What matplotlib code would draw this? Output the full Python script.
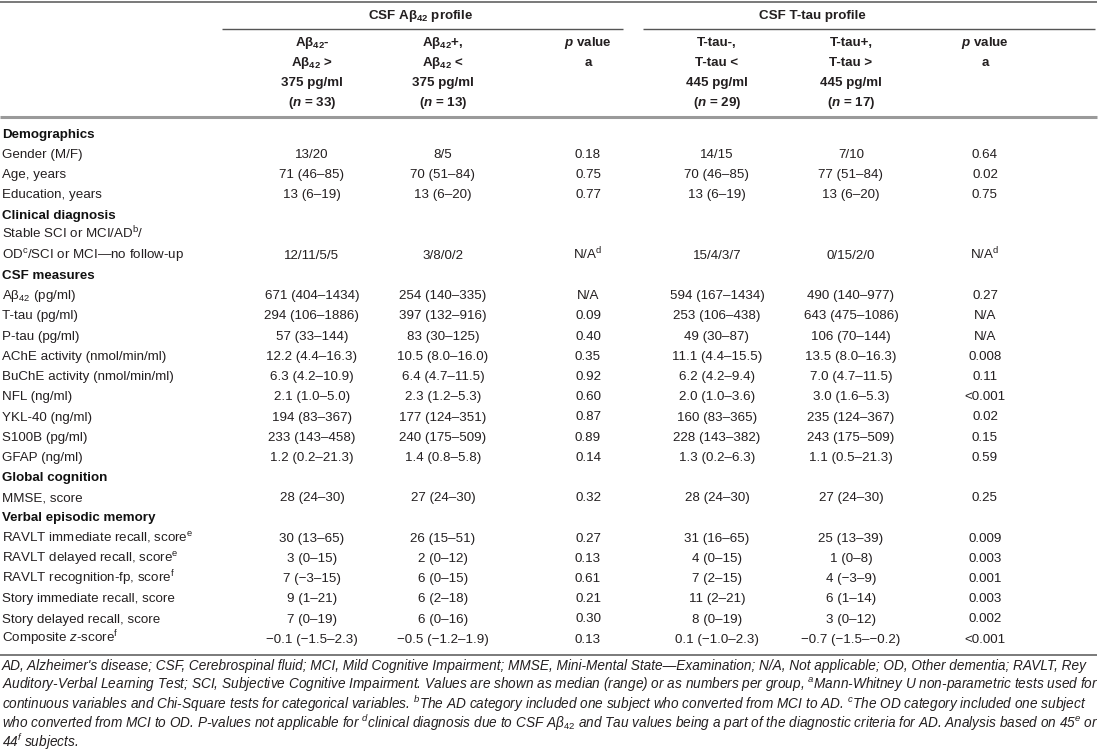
import matplotlib
matplotlib.use("Agg")
import matplotlib.pyplot as plt

plt.rcParams['font.family'] = ['Liberation Sans', 'DejaVu Sans']
plt.rcParams['mathtext.fontset'] = 'custom'
plt.rcParams['mathtext.rm'] = 'Liberation Sans'
plt.rcParams['mathtext.it'] = 'Liberation Sans:italic'
plt.rcParams['mathtext.bf'] = 'Liberation Sans:bold'
plt.rcParams['mathtext.bfit'] = 'Liberation Sans:italic:bold'

# ---------------- data ----------------
group_titles = ["CSF A\u03b2$_{\\mathbf{42}}$ profile", "CSF T-tau profile"]
col_headers = [
    ["A\u03b2$_{\\mathbf{42}}$-", "A\u03b2$_{\\mathbf{42}}$ >", "375 pg/ml", "($\\mathbfit{n}$ = 33)"],
    ["A\u03b2$_{\\mathbf{42}}$+,", "A\u03b2$_{\\mathbf{42}}$ <", "375 pg/ml", "($\\mathbfit{n}$ = 13)"],
    ["$\\mathbfit{p}$ value", "a"],
    ["T-tau-,", "T-tau <", "445 pg/ml", "($\\mathbfit{n}$ = 29)"],
    ["T-tau+,", "T-tau >", "445 pg/ml", "($\\mathbfit{n}$ = 17)"],
    ["$\\mathbfit{p}$ value", "a"],
]

row_labels = [
    "Demographics", "Gender (M/F)", "Age, years", "Education, years",
    "Clinical diagnosis", "Stable SCI or MCI/AD$^{\\mathrm{b}}$/",
    "OD$^{\\mathrm{c}}$/SCI or MCI\u2014no follow-up",
    "CSF measures", "A\u03b2$_{42}$ (pg/ml)", "T-tau (pg/ml)", "P-tau (pg/ml)",
    "AChE activity (nmol/min/ml)", "BuChE activity (nmol/min/ml)", "NFL (ng/ml)",
    "YKL-40 (ng/ml)", "S100B (pg/ml)", "GFAP (ng/ml)",
    "Global cognition", "MMSE, score",
    "Verbal episodic memory",
    "RAVLT immediate recall, score$^{\\mathrm{e}}$",
    "RAVLT delayed recall, score$^{\\mathrm{e}}$",
    "RAVLT recognition-fp, score$^{\\mathrm{f}}$",
    "Story immediate recall, score", "Story delayed recall, score",
    "Composite $\\mathit{z}$-score$^{\\mathrm{f}}$",
]
section_rows = {"Demographics", "Clinical diagnosis", "CSF measures",
                "Global cognition", "Verbal episodic memory"}

NAd = "N/A$^{\\mathrm{d}}$"
abeta_neg = ["", "13/20", "71 (46\u201385)", "13 (6\u201319)", "", "", "12/11/5/5", "",
             "671 (404\u20131434)", "294 (106\u20131886)", "57 (33\u2013144)", "12.2 (4.4\u201316.3)",
             "6.3 (4.2\u201310.9)", "2.1 (1.0\u20135.0)", "194 (83\u2013367)", "233 (143\u2013458)",
             "1.2 (0.2\u201321.3)", "", "28 (24\u201330)", "", "30 (13\u201365)", "3 (0\u201315)",
             "7 (\u22123\u201315)", "9 (1\u201321)", "7 (0\u201319)", "\u22120.1 (\u22121.5\u20132.3)"]
abeta_pos = ["", "8/5", "70 (51\u201384)", "13 (6\u201320)", "", "", "3/8/0/2", "",
             "254 (140\u2013335)", "397 (132\u2013916)", "83 (30\u2013125)", "10.5 (8.0\u201316.0)",
             "6.4 (4.7\u201311.5)", "2.3 (1.2\u20135.3)", "177 (124\u2013351)", "240 (175\u2013509)",
             "1.4 (0.8\u20135.8)", "", "27 (24\u201330)", "", "26 (15\u201351)", "2 (0\u201312)",
             "6 (0\u201315)", "6 (2\u201318)", "6 (0\u201316)", "\u22120.5 (\u22121.2\u20131.9)"]
p_abeta = ["", "0.18", "0.75", "0.77", "", "", NAd, "",
           "N/A", "0.09", "0.40", "0.35", "0.92", "0.60", "0.87", "0.89", "0.14", "",
           "0.32", "", "0.27", "0.13", "0.61", "0.21", "0.30", "0.13"]
tau_neg = ["", "14/15", "70 (46\u201385)", "13 (6\u201319)", "", "", "15/4/3/7", "",
           "594 (167\u20131434)", "253 (106\u2013438)", "49 (30\u201387)", "11.1 (4.4\u201315.5)",
           "6.2 (4.2\u20139.4)", "2.0 (1.0\u20133.6)", "160 (83\u2013365)", "228 (143\u2013382)",
           "1.3 (0.2\u20136.3)", "", "28 (24\u201330)", "", "31 (16\u201365)", "4 (0\u201315)",
           "7 (2\u201315)", "11 (2\u201321)", "8 (0\u201319)", "0.1 (\u22121.0\u20132.3)"]
tau_pos = ["", "7/10", "77 (51\u201384)", "13 (6\u201320)", "", "", "0/15/2/0", "",
           "490 (140\u2013977)", "643 (475\u20131086)", "106 (70\u2013144)", "13.5 (8.0\u201316.3)",
           "7.0 (4.7\u201311.5)", "3.0 (1.6\u20135.3)", "235 (124\u2013367)", "243 (175\u2013509)",
           "1.1 (0.5\u201321.3)", "", "27 (24\u201330)", "", "25 (13\u201339)", "1 (0\u20138)",
           "4 (\u22123\u20139)", "6 (1\u201314)", "3 (0\u201312)", "\u22120.7 (\u22121.5\u2013\u22120.2)"]
p_tau = ["", "0.64", "0.02", "0.75", "", "", NAd, "",
         "0.27", "N/A", "N/A", "0.008", "0.11", "<0.001", "0.02", "0.15", "0.59", "",
         "0.25", "", "0.009", "0.003", "0.001", "0.003", "0.002", "<0.001"]

footnote_lines = [
    "AD, Alzheimer's disease; CSF, Cerebrospinal fluid; MCI, Mild Cognitive Impairment; MMSE, Mini-Mental State\u2014Examination; N/A, Not applicable; OD, Other dementia; RAVLT, Rey",
    "Auditory-Verbal Learning Test; SCI, Subjective Cognitive Impairment. Values are shown as median (range) or as numbers per group, $^{\\mathit{a}}$Mann-Whitney U non-parametric tests used for",
    "continuous variables and Chi-Square tests for categorical variables. $^{\\mathit{b}}$The AD category included one subject who converted from MCI to AD. $^{\\mathit{c}}$The OD category included one subject",
    "who converted from MCI to OD. P-values not applicable for $^{\\mathit{d}}$clinical diagnosis due to CSF A\u03b2$_{\\mathit{42}}$ and Tau values being a part of the diagnostic criteria for AD. Analysis based on 45$^{\\mathit{e}}$ or",
    "44$^{\\mathit{f}}$ subjects.",
]

# ---------------- layout ----------------
W, H = 1100, 754
fig = plt.figure(figsize=(W / 100, H / 100), dpi=100)
ax = fig.add_axes([0, 0, 1, 1])
ax.set_xlim(0, W)
ax.set_ylim(H, 0)
ax.axis('off')

FS = 9.6
TC = '#231f20'
BASE = 4.7  # center -> baseline offset in px
col_x = [312, 443, 588, 717, 851, 985]
R = 1097

def hline(y, x0, x1, lw, color):
    ax.plot([x0, x1], [y, y], color=color, lw=lw, solid_capstyle='butt')

hline(1.5, 0, R, 1.3, '#6e6e6e')
hline(29, 222, 623, 1.0, '#555555')
hline(29, 643, R - 2, 1.0, '#555555')
hline(117, 0, R, 2.2, '#9a9a9a')
hline(655, 0, R, 1.4, '#7a7a7a')

ax.text(421, 14 + BASE, group_titles[0], fontsize=FS, fontweight='bold', color=TC,
        ha='center', va='baseline')
ax.text(812, 14 + BASE, group_titles[1], fontsize=FS, fontweight='bold', color=TC,
        ha='center', va='baseline')

for x, lines in zip(col_x, col_headers):
    for k, s in enumerate(lines):
        ax.text(x, 41 + 20 * k + BASE, s, fontsize=FS, fontweight='bold', color=TC,
                ha='center', va='baseline')

cols = [abeta_neg, abeta_pos, p_abeta, tau_neg, tau_pos, p_tau]
for i, lab in enumerate(row_labels):
    y = 133 + 20.2 * i + BASE
    if lab in section_rows:
        ax.text(2, y, lab, fontsize=FS, fontweight='bold', color='#111111',
                ha='left', va='baseline')
    else:
        ax.text(2, y, lab, fontsize=FS, color=TC, ha='left', va='baseline')
    for x, col in zip(col_x, cols):
        if col[i]:
            ax.text(x, y, col[i], fontsize=FS, color=TC, ha='center', va='baseline')

# footnote, fitted so first line spans the table width
fig.canvas.draw()
rend = fig.canvas.get_renderer()
probe = ax.text(2, 0, footnote_lines[0], fontsize=FS, fontstyle='italic')
w = probe.get_window_extent(renderer=rend).width
probe.remove()
ffs = FS * (R - 10) / w
for k, s in enumerate(footnote_lines):
    ax.text(2, 666 + 19.2 * k + 4.2, s, fontsize=ffs, fontstyle='italic', color=TC,
            ha='left', va='baseline')

fig.savefig('out.png', dpi=100)
